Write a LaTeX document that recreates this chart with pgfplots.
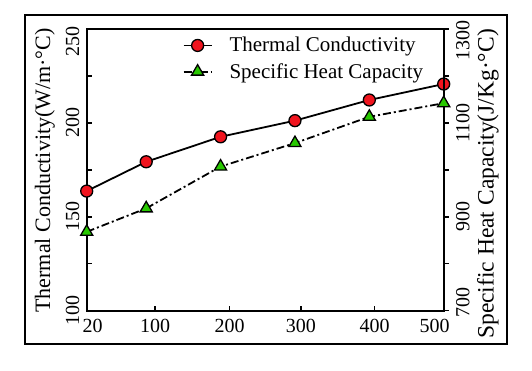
\documentclass[border=0pt]{standalone}
\usepackage{fontspec}
\setmainfont{Liberation Serif}
\usepackage{pgfplots}
\pgfplotsset{compat=1.18}
\definecolor{mred}{RGB}{240,20,30}
\definecolor{mgreen}{RGB}{40,200,0}
\begin{document}
\begin{tikzpicture}[x=1pt,y=1pt]
\path[use as bounding box] (0,0) rectangle (532,370);
\draw[line width=1.6pt] (25,26) rectangle (507,355);
\begin{axis}[
  scale only axis, width=357pt, height=281.7pt,
  at={(86.7pt,59.3pt)}, anchor=south west,
  xmin=20, xmax=500, ymin=100, ymax=250,
  axis line style={line width=1.6pt},
  /pgf/number format/assume math mode=true,
  xtick={20,112,212,308,407,500},
  xticklabels={{\hspace*{12pt}20},100,200,300,400,{500\hspace*{18pt}}},
  ytick={100,150,200,250}, minor ytick={125,175,225},
  yticklabels={100,150,200,{250\hspace*{26pt}}},
  xtick pos=bottom, ytick pos=left,
  tick align=inside,
  major tick length=5pt, minor tick length=5pt,
  every tick/.style={line width=1.4pt, black},
  tick label style={font=\fontsize{20}{20}\selectfont},
  yticklabel style={rotate=90, anchor=south, outer ysep=4pt},
  xticklabel style={anchor=north, yshift=-5pt},
  ylabel={Thermal Conductivity(W/m·°C)},
  every axis y label/.style={at={(axis description cs:-0.117,0.498)}, rotate=90, anchor=center,
    font=\fontsize{22}{22}\selectfont},
  legend style={at={(axis description cs:0.26,0.985)}, anchor=north west, draw=none, fill=none,
    font=\fontsize{21}{21}\selectfont, row sep=6pt, column sep=15pt},
  legend cell align=left,
  legend image code/.code={\draw[mark repeat=2,mark phase=2,#1] plot coordinates {(0pt,0pt)(14pt,0pt)(28pt,0pt)};},
]
\addplot[black, line width=1.8pt, mark=*, mark size=6pt,
  mark options={fill=mred, draw=black, line width=1.3pt, solid}]
  coordinates {(20,163.7)(100,179.3)(200,192.6)(300,201.2)(400,212.2)(500,220.7)};
\addlegendentry{Thermal Conductivity}
\addlegendimage{black, line width=1.8pt, dash pattern=on 8pt off 3pt on 2pt off 3pt, mark=triangle*, mark size=7pt,
  mark options={fill=mgreen, draw=black, line width=1.3pt, solid}}
\addlegendentry{Specific Heat Capacity}
\end{axis}
\begin{axis}[
  scale only axis, width=357pt, height=281.7pt,
  at={(86.7pt,59.3pt)}, anchor=south west,
  xmin=20, xmax=500, ymin=700, ymax=1300,
  axis x line=none, axis y line*=right,
  axis line style={line width=1.6pt, -},
  /pgf/number format/assume math mode=true,
  ytick={700,900,1100,1300}, minor ytick={800,1000,1200},
  yticklabels={{\hspace*{16pt}700},900,1100,{1300\hspace*{24pt}}},
  tick align=outside,
  major tick length=5pt, minor tick length=5pt,
  every tick/.style={line width=1.4pt, black},
  tick label style={font=\fontsize{20}{20}\selectfont},
  yticklabel style={rotate=90, anchor=north, outer ysep=4pt},
  ylabel={Specific Heat Capacity(J/Kg·°C)},
  every axis y label/.style={at={(axis description cs:1.124,0.45)}, rotate=90, anchor=center,
    font=\fontsize{23.5}{23.5}\selectfont},
]
\addplot[black, line width=1.8pt, dash pattern=on 8pt off 3pt on 2pt off 3pt, mark=triangle*, mark size=7pt,
  mark options={fill=mgreen, draw=black, line width=1.3pt, solid}]
  coordinates {(20,868)(100,918)(200,1007)(300,1057)(400,1113)(500,1142)};
\end{axis}
\end{tikzpicture}
\end{document}
